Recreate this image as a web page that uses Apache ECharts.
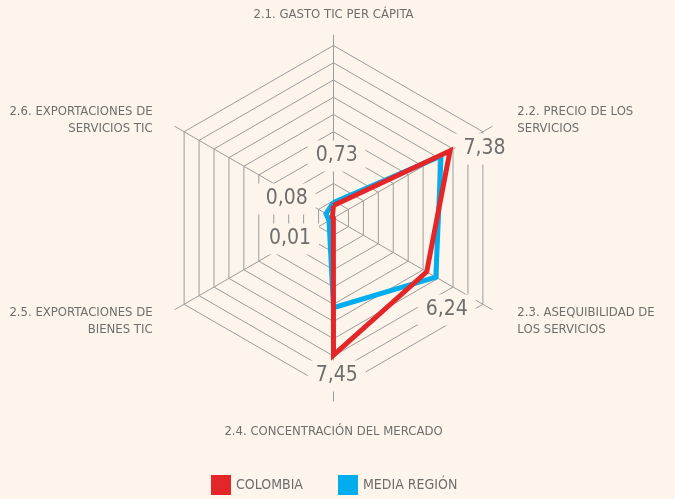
<!DOCTYPE html>
<html>
<head>
<meta charset="utf-8">
<script src="https://cdn.jsdelivr.net/npm/echarts@6/dist/echarts.min.js"></script>
<style>
  html, body { margin: 0; padding: 0; background: #fdf5eb; }
  #chart { width: 675px; height: 499px; }
</style>
</head>
<body>
<div id="chart"></div>
<script>
// natural order 2.1 .. 2.6
const indicators = [
  '2.1. GASTO TIC PER CÁPITA',
  '2.2. PRECIO DE LOS\nSERVICIOS',
  '2.3. ASEQUIBILIDAD DE\nLOS SERVICIOS',
  '2.4. CONCENTRACIÓN DEL MERCADO',
  '2.5. EXPORTACIONES DE\nBIENES TIC',
  '2.6. EXPORTACIONES DE\nSERVICIOS TIC',
]
const colombia = [0.73, 7.8, 6.24, 7.95, 0.01, 0.08]
const mediaRegion = [0.9, 7.2, 6.85, 5.2, 0.3, 0.5]
const valueLabels = ['0,73', '7,38', '6,24', '7,45', '0,01', '0,08']
const seriesNames = ['COLOMBIA', 'MEDIA REGIÓN']

// radar places indicators counter-clockwise from the top
const order = [0, 5, 4, 3, 2, 1]
const pick = (arr) => order.map((i) => arr[i])

const FONT = '"Liberation Sans Narrow", "DejaVu Sans Condensed", "Roboto", sans-serif'
const GRAY = '#6e6e6e'
const LINE = '#9c9c9c'
const BG = '#fdf5eb'

// rich styles per indicator name (horizontal / vertical nudges)
const nameRich = {
  t: { lineHeight: 17 },
  r: { lineHeight: 17, padding: [0, 0, 0, 15] },
  rd: { lineHeight: 17, padding: [12, 0, 0, 15] },
  b: { lineHeight: 17, padding: [21, 0, 0, 0] },
  l: { lineHeight: 17, padding: [0, 12, 0, 0] },
  ld: { lineHeight: 17, padding: [12, 12, 0, 0] },
}
const nameTokens = ['t', 'r', 'rd', 'b', 'ld', 'l']

function fmtName(name) {
  const tk = nameTokens[indicators.indexOf(name)] || 't'
  return name.split('\n').map((line) => `{${tk}|${line}}`).join('\n')
}

// value label placement (design layout)
const labelPos = [
  [336.7, 156], [484.5, 149], [446.7, 310], [336.7, 376], [290, 239], [286.7, 199],
]

const chart = echarts.init(document.getElementById('chart'))

const indicatorDefs = pick(indicators).map((n) => ({ name: n, max: 10, min: 0 }))

chart.setOption({
  backgroundColor: BG,
  textStyle: { fontFamily: FONT },
  legend: {
    data: seriesNames,
    left: 206,
    top: 470,
    itemWidth: 20,
    itemHeight: 20,
    itemGap: 35,
    icon: 'rect',
    textStyle: { color: GRAY, fontSize: 14, fontFamily: FONT },
  },
  radar: [
    {
      center: [333.5, 218],
      radius: 172.5,
      z: 0,
      shape: 'polygon',
      splitNumber: 10,
      indicator: indicatorDefs,
      axisName: { show: false },
      axisLine: { show: false },
      axisTick: { show: false },
      axisLabel: { show: false },
      splitArea: { show: false },
      splitLine: { lineStyle: { color: LINE, width: 1 } },
    },
    {
      center: [333.5, 218],
      radius: 183,
      z: 0,
      shape: 'polygon',
      splitNumber: 1,
      indicator: indicatorDefs,
      nameGap: 12,
      axisName: {
        color: GRAY,
        fontSize: 13,
        fontFamily: FONT,
        formatter: fmtName,
        rich: nameRich,
      },
      axisLine: { lineStyle: { color: LINE, width: 1 } },
      axisTick: { show: false },
      axisLabel: { show: false },
      splitArea: { show: false },
      splitLine: { show: false },
    },
  ],
  series: [
    {
      type: 'radar',
      radarIndex: 0,
      z: 2,
      symbol: 'none',
      data: [
        {
          name: seriesNames[1],
          value: pick(mediaRegion),
          itemStyle: { color: '#00adef' },
          lineStyle: { color: '#00adef', width: 5, join: 'miter', miterLimit: 10 },
        },
        {
          name: seriesNames[0],
          value: pick(colombia),
          itemStyle: { color: '#e42628' },
          lineStyle: { color: '#e42628', width: 5, join: 'miter', miterLimit: 10 },
        },
      ],
    },
  ],
  graphic: valueLabels.map((t, i) => ({
    type: 'text',
    x: labelPos[i][0],
    y: labelPos[i][1],
    z: 1,
    style: {
      text: t,
      font: '21px ' + FONT,
      fill: GRAY,
      align: 'center',
      verticalAlign: 'middle',
      backgroundColor: BG,
      padding: [5, 8],
    },
  })),
})
</script>
</body>
</html>
